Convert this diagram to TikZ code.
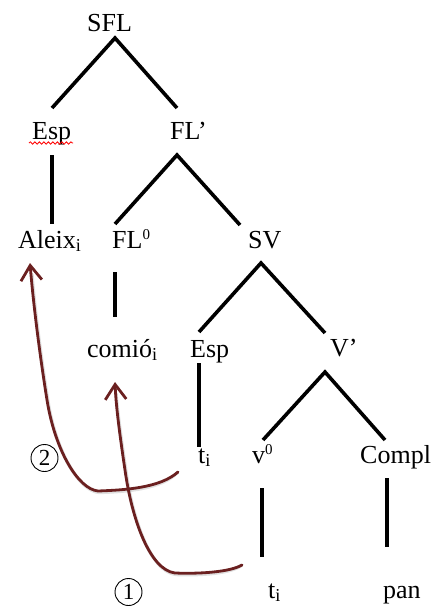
\documentclass[tikz,border=0pt]{standalone}
\usepackage{fontspec}
\setmainfont{Liberation Serif}
\usetikzlibrary{arrows.meta,decorations.pathmorphing}
\definecolor{movecol}{HTML}{6B2020}
\newcommand{\zerosup}{\raisebox{9pt}{\fontsize{15}{15}\selectfont 0}}
\begin{document}
\begin{tikzpicture}[x=1pt,y=-1pt,
  lbl/.style={anchor=base west, inner sep=0pt, font=\fontsize{26}{30}\selectfont},
  branch/.style={line width=3.6pt, line join=miter},
  move/.style={draw=movecol, line width=2.8pt, line cap=round,
    -{Straight Barb[length=15pt,width=21pt]}},
  moveshadow/.style={draw=black, opacity=0.12, line width=3.4pt, line cap=round},
  circnum/.style={circle, draw, line width=0.9pt, minimum size=27pt, inner sep=0pt,
    font=\fontsize{23}{23}\selectfont},
  squiggle/.style={draw=red, line width=0.8pt, decorate,
    decoration={snake, amplitude=1.2pt, segment length=4.5pt}}
]
\useasboundingbox (0,0) rectangle (438,606);

% labels
\node[lbl] (SFL)   at (87,31)   {SFL};
\node[lbl] (EspA)  at (32,139)  {Esp};
\node[lbl] (FLb)   at (170,139) {FL’};
\node[lbl] (Aleix) at (18,248)  {Aleix\textsubscript{i}};
\node[lbl] (FL0)   at (112,248) {FL\zerosup};
\node[lbl] (SV)    at (248,248) {SV};
\node[lbl] (comio) at (87,357)  {comió\textsubscript{i}};
\node[lbl] (EspB)  at (190,357) {Esp};
\node[lbl] (Vb)    at (330,356) {V’};
\node[lbl] (tA)    at (198,463) {t\textsubscript{i}};
\node[lbl] (v0)    at (252,463) {v\zerosup};
\node[lbl] (Compl) at (360,463) {Compl};
\node[lbl] (tB)    at (268,598) {t\textsubscript{i}};
\node[lbl] (pan)   at (383,598) {pan};

% spell-check underline
\coordinate (sqA) at (29,143);
\coordinate (sqB) at (73,143);
\draw[squiggle] (sqA) -- (sqB);

% branch end points
\coordinate (SFLap) at (115,38);  \coordinate (SFLl) at (52,108);  \coordinate (SFLr) at (177,108);
\coordinate (EspAt) at (52,155);  \coordinate (EspAb) at (52,224);
\coordinate (FLbap) at (177,155); \coordinate (FLbl) at (115,224); \coordinate (FLbr) at (240,225);
\coordinate (FL0t) at (115,272);  \coordinate (FL0b) at (115,317);
\coordinate (SVap) at (261,263);  \coordinate (SVl) at (199,332);  \coordinate (SVr) at (325,333);
\coordinate (EspBt) at (199,363); \coordinate (EspBb) at (199,447);
\coordinate (Vbap) at (325,372);  \coordinate (Vbl) at (263,440);  \coordinate (Vbr) at (385,440);
\coordinate (v0t) at (262,488);   \coordinate (v0b) at (262,557);
\coordinate (Cpt) at (387,478);   \coordinate (Cpb) at (387,547);

% branches
\draw[branch] (SFLl) -- (SFLap) -- (SFLr);
\draw[branch] (EspAt) -- (EspAb);
\draw[branch] (FLbl) -- (FLbap) -- (FLbr);
\draw[branch] (FL0t) -- (FL0b);
\draw[branch] (SVl) -- (SVap) -- (SVr);
\draw[branch] (EspBt) -- (EspBb);
\draw[branch] (Vbl) -- (Vbap) -- (Vbr);
\draw[branch] (v0t) -- (v0b);
\draw[branch] (Cpt) -- (Cpb);

% movement arrows
\coordinate (m1s) at (242,565); \coordinate (m1e) at (115,382);
\coordinate (m2s) at (178,472); \coordinate (m2e) at (30,263);
\begin{scope}[shift={(1,1.5)}]
\draw[moveshadow] (m1s) .. controls (230,572) and (200,574) .. (175,573)
  .. controls (150,570) and (132,520) .. (125,470)
  .. controls (119,430) and (116,405) .. (115,392);
\draw[moveshadow] (m2s) .. controls (160,488) and (125,490) .. (98,491)
  .. controls (78,489) and (55,450) .. (47,400)
  .. controls (39,350) and (33,300) .. (31,273);
\end{scope}
\draw[move] (m1s) .. controls (230,572) and (200,574) .. (175,573)
  .. controls (150,570) and (132,520) .. (125,470)
  .. controls (119,430) and (116,405) .. (m1e);
\draw[move] (m2s) .. controls (160,488) and (125,490) .. (98,491)
  .. controls (78,489) and (55,450) .. (47,400)
  .. controls (39,350) and (33,300) .. (m2e);

% step numbers
\node[circnum] (n2) at (44.5,458) {2};
\node[circnum] (n1) at (128.5,592) {1};
\end{tikzpicture}
\end{document}
